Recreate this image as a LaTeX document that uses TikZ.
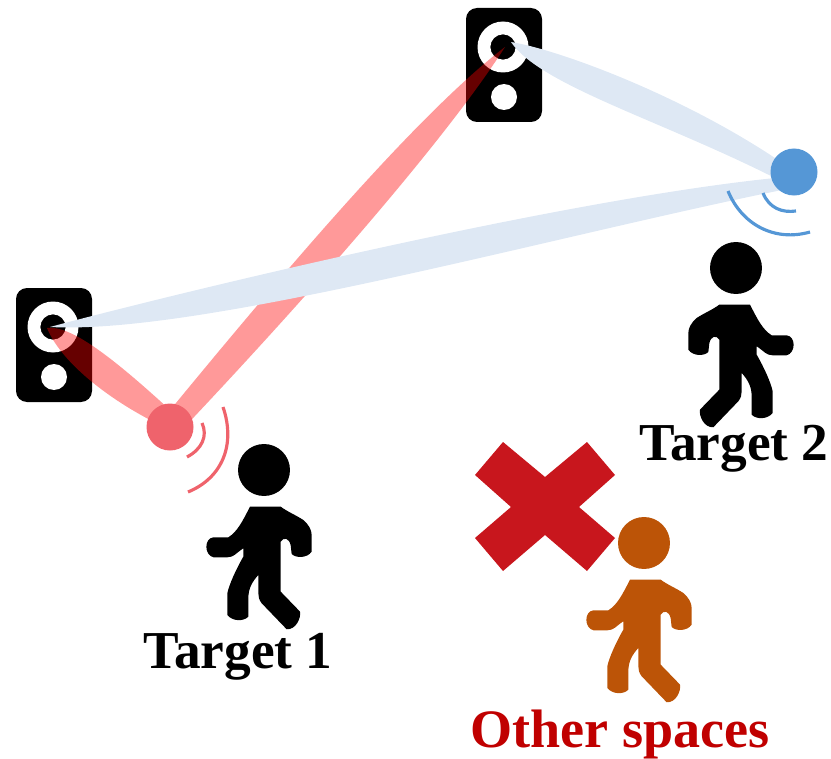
\documentclass[tikz,border=0pt]{standalone}
\usepackage{fontspec}
\setmainfont{Liberation Serif}
\definecolor{beamblue}{HTML}{DEE8F4}
\definecolor{dotred}{HTML}{EF636C}
\definecolor{dotblue}{HTML}{5597D6}
\definecolor{crossred}{HTML}{C8161D}
\definecolor{labelred}{HTML}{C00000}
\definecolor{orangep}{HTML}{BC5407}
\tikzset{
  redbeam/.style={fill=red,fill opacity=.4,draw=none},
  bluebeam/.style={fill=beamblue,draw=none},
  wave/.style={line width=2.7pt,line cap=butt},
  lab/.style={font=\bfseries\fontsize{45.5}{45.5}\selectfont,inner sep=0pt,anchor=base},
  labb/.style={font=\bfseries\fontsize{46.2}{46.2}\selectfont,inner sep=0pt,anchor=base},
}
\newcommand{\walker}[4]{% head centre x,y ; colour ; mirror
  \begin{scope}[shift={(#1,#2)},x=0.01cm,y=-0.01cm,xscale=#4]
    \fill[#3] (0,0) circle [radius=78];
    \fill[#3] (-42,110) -- (50,110) .. controls (70,125) and (95,135) .. (118,150)
      .. controls (135,165) and (143,180) .. (143,195) -- (143,245)
      .. controls (130,265) and (95,265) .. (83,252) -- (80,225)
      .. controls (75,205) and (60,200) .. (50,215) -- (50,365) -- (108,425)
      .. controls (112,445) and (95,480) .. (68,478) -- (-7,400)
      .. controls (-15,390) and (-17,380) .. (-17,370) -- (-17,315)
      .. controls (-35,335) and (-47,355) .. (-47,385) -- (-47,440)
      .. controls (-60,455) and (-95,455) .. (-110,435) -- (-110,370)
      .. controls (-105,345) and (-85,300) .. (-62,260) -- (-62,235)
      .. controls (-85,250) and (-90,262) .. (-110,262) -- (-152,262)
      .. controls (-180,255) and (-180,205) .. (-152,202) -- (-107,202)
      .. controls (-80,185) and (-65,155) .. (-42,110) -- cycle;
  \end{scope}}
\newcommand{\speaker}[2]{% ring centre
  \begin{scope}[shift={(#1,#2)}]
    \fill[black,rounded corners=0.33cm] (-37,-39) rectangle (39,75);
    \fill[white,even odd rule] (0,0) circle [radius=25.5] (0,0) circle [radius=12.7];
    \fill[white] (1,50) circle [radius=13];
  \end{scope}}
\begin{document}
\begin{tikzpicture}[x=0.03cm,y=-0.03cm]
\useasboundingbox (0,0) rectangle (831,759);
\speaker{53}{327}
\speaker{503}{47}
\coordinate (tipA) at (47,328);
\coordinate (tipB) at (505,47);
\coordinate (tipC) at (511,42);
\coordinate (tipD) at (50,327);
\coordinate (dotR) at (170,427);
\coordinate (dotB) at (794,172);
% long red beam lies under the blue ones
\fill[redbeam] (tipB) .. controls (420,112) and (290,264) .. (162,420)
  -- (178,434) .. controls (318,286) and (448,136) .. (tipB);
% blue beams
\fill[bluebeam] (tipC) .. controls (560,50) and (680,95) .. (775,158)
  -- (775,178) .. controls (660,120) and (540,85) .. (tipC);
\fill[bluebeam] (tipD) .. controls (150,300) and (550,201) .. (775,178)
  -- (782,190) .. controls (550,237) and (200,335) .. (tipD);
% short red beam lies over the blue one
\fill[redbeam] (tipA) .. controls (70,325) and (110,355) .. (170,410)
  -- (160,425) .. controls (105,398) and (60,360) .. (tipA);
% receivers
\node[circle,fill=dotred,minimum size=1.41cm,inner sep=0pt] (redDot) at (dotR) {};
\node[circle,fill=dotblue,minimum size=1.41cm,inner sep=0pt] (blueDot) at (dotB) {};
\draw[wave,dotred] (202,423) .. controls (208,436) and (202,449) .. (187,457);
\draw[wave,dotred] (223,407) .. controls (236,445) and (222,478) .. (188,492);
\draw[wave,dotblue] (763,193) .. controls (769,208) and (782,213) .. (796,211);
\draw[wave,dotblue] (728,191) .. controls (742,225) and (775,242) .. (810,232);
\walker{264}{470}{black}{1}
\walker{736}{268}{black}{-1}
\walker{644}{543}{orangep}{1}
% cross
\fill[crossred] (545,477) -- (587,442) -- (615,475) -- (579,507) -- (615,538) -- (587,571)
  -- (545,535) -- (503,571) -- (475,538) -- (511,507) -- (475,475) -- (503,442) -- cycle;
\node[lab] (t1) at (238,668) {Target 1};
\node[lab] (t2) at (734,460) {Target 2};
\node[labb,text=labelred] (t3) at (620,747) {Other spaces};
\end{tikzpicture}
\end{document}
